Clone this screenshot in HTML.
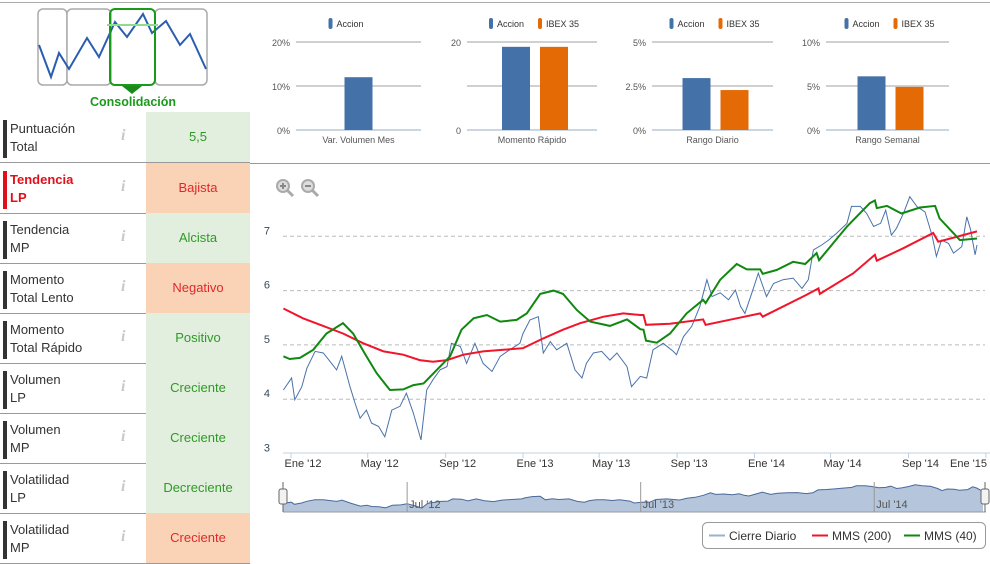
<!DOCTYPE html>
<html><head><meta charset="utf-8">
<style>
body{margin:0;width:990px;height:564px;overflow:hidden;background:#fff;font-family:"Liberation Sans",sans-serif;position:relative}
.row{position:absolute;left:0;width:250px;height:50px;border-bottom:1px solid #999}
.row .bar{position:absolute;left:3px;top:8px;width:4px;height:38px;background:#333}
.row .lbl{position:absolute;left:10px;top:8px;font-size:13px;line-height:18px;color:#333}
.row .info{position:absolute;left:121px;top:15px;font-size:16px;color:#c8c8c8;font-style:italic;font-family:"Liberation Serif",serif;font-weight:bold}
.row .val{position:absolute;left:146px;top:0;width:104px;height:50px;line-height:50px;text-align:center;font-size:13px}
.g{background:#e2efde;color:#2e9a26}.o{background:#fad3b6;color:#e0282c}
</style></head><body>
<div style="position:absolute;left:0;top:2px;width:990px;height:1px;background:#aaa"></div>
<div style="position:absolute;left:250px;top:163px;width:740px;height:1px;background:#999"></div>
<svg style="position:absolute;left:0;top:0" width="250" height="112">
<g fill="#fff" stroke="#aaa" stroke-width="1.5">
<rect x="38" y="9" width="29" height="76" rx="5"/><rect x="67" y="9" width="44" height="76" rx="5"/><rect x="155" y="9" width="52" height="76" rx="5"/></g>
<polyline fill="none" stroke="#2a5db0" stroke-width="2" points="39,45 51,77 59,53 69,69 87,38 99,57 115,22 127,37 143,14 152,33 166,21 180,45 190,34 206,69"/>
<rect x="110" y="9" width="45" height="76" rx="5" fill="none" stroke="#1a9a1a" stroke-width="2"/>
<line x1="107" y1="25" x2="158" y2="25" stroke="#8fdc8f" stroke-width="2"/>
<polygon points="122,86 142,86 132,94" fill="#1a8a1a"/>
<text x="133" y="106" text-anchor="middle" font-size="12.5" font-weight="bold" fill="#1a9a1a">Consolidación</text>
</svg>
<div style="position:absolute;left:0;top:0">
<div class="row" style="top:112px"><div class="bar"></div><div class="lbl">Puntuación<br>Total</div><div class="info">i</div><div class="val g">5,5</div></div>
<div class="row" style="top:163px"><div class="bar" style="background:#e0101a"></div><div class="lbl" style="color:#e0101a;font-weight:bold">Tendencia<br>LP</div><div class="info">i</div><div class="val o">Bajista</div></div>
<div class="row" style="top:213px"><div class="bar"></div><div class="lbl">Tendencia<br>MP</div><div class="info">i</div><div class="val g">Alcista</div></div>
<div class="row" style="top:263px"><div class="bar"></div><div class="lbl">Momento<br>Total Lento</div><div class="info">i</div><div class="val o">Negativo</div></div>
<div class="row" style="top:313px"><div class="bar"></div><div class="lbl">Momento<br>Total Rápido</div><div class="info">i</div><div class="val g">Positivo</div></div>
<div class="row" style="top:363px"><div class="bar"></div><div class="lbl">Volumen<br>LP</div><div class="info">i</div><div class="val g">Creciente</div></div>
<div class="row" style="top:413px"><div class="bar"></div><div class="lbl">Volumen<br>MP</div><div class="info">i</div><div class="val g">Creciente</div></div>
<div class="row" style="top:463px"><div class="bar"></div><div class="lbl">Volatilidad<br>LP</div><div class="info">i</div><div class="val g">Decreciente</div></div>
<div class="row" style="top:513px"><div class="bar"></div><div class="lbl">Volatilidad<br>MP</div><div class="info">i</div><div class="val o">Creciente</div></div>
</div>
<svg id="mini" style="position:absolute;left:0;top:0" width="990" height="160" font-family="Liberation Sans, sans-serif"></svg>
<svg id="main" style="position:absolute;left:0;top:0" width="990" height="564" font-family="Liberation Sans, sans-serif">
<g><circle cx="283" cy="186" r="6" fill="#ddd" stroke="#aaa" stroke-width="2"/><line x1="287" y1="190" x2="293" y2="196" stroke="#aaa" stroke-width="3"/><path d="M280 186h6M283 183v6" stroke="#888" stroke-width="2"/></g>
<g><circle cx="308" cy="186" r="6" fill="#ddd" stroke="#aaa" stroke-width="2"/><line x1="312" y1="190" x2="318" y2="196" stroke="#aaa" stroke-width="3"/><path d="M305 186h6" stroke="#888" stroke-width="2"/></g>
</svg>
<script>
const NS='http://www.w3.org/2000/svg';
function mk(p,t,a,txt){const e=document.createElementNS(NS,t);for(const k in a)e.setAttribute(k,a[k]);if(txt!==undefined)e.textContent=txt;p.appendChild(e);return e;}
// ---- mini chart data
const miniTitles=['Var. Volumen Mes','Momento Rápido','Rango Diario','Rango Semanal'];
const miniMax=[20,20,5,10];
const miniTicks=[['0%','10%','20%'],['0','','20'],['0%','2.5%','5%'],['0%','5%','10%']];
const accionVals=[12,18.9,2.95,6.1];
const ibexVals=[null,18.9,2.27,4.9];
const miniLeft=[296,467,652,826];
const miniW=[125,130,121,123];
const mini=document.getElementById('mini');
miniTitles.forEach((t,i)=>{
  const x0=miniLeft[i],w=miniW[i],y0=130,h=88;
  const y=v=>y0-v/miniMax[i]*h;
  [0,0.5,1].forEach((f,j)=>{
    const l=mk(mini,'line',{x1:x0,x2:x0+w,y1:y0-f*h,y2:y0-f*h,stroke:j?'#c0c0c0':'#b8c8da','stroke-width':1.5});
    
    
    const tl=mk(mini,'text',{x:x0-6,y:y0-f*h+4,'text-anchor':'end','font-size':9,fill:'#555'},miniTicks[i][j]);
    
    
  });
  const two=ibexVals[i]!==null;
  const cx=x0+w/2;
  const bx=two?[cx-30,cx+8]:[cx-14];
  const b=mk(mini,'rect',{x:bx[0],y:y(accionVals[i]),width:28,height:y0-y(accionVals[i]),fill:'#4472a8'});
  
  
  if(two){const b2=mk(mini,'rect',{x:bx[1],y:y(ibexVals[i]),width:28,height:y0-y(ibexVals[i]),fill:'#e46a06'});
  
  }
  const xt=mk(mini,'text',{x:cx,y:143,'text-anchor':'middle','font-size':9,fill:'#555'},t);
  
  
  const lx=two?cx-43:cx-30;
  const lg=mk(mini,'g',{});
  
  
  mk(lg,'rect',{x:lx,y:18,width:4,height:11,rx:2,fill:'#4472a8'});
  mk(lg,'text',{x:lx+8,y:27,'font-size':9,fill:'#333'},'Accion');
  if(two){mk(lg,'rect',{x:lx+49,y:18,width:4,height:11,rx:2,fill:'#e46a06'});mk(lg,'text',{x:lx+57,y:27,'font-size':9,fill:'#333'},'IBEX 35');}
});
// ---- main chart data (days since 2012-01-01)
const priceDays=[-12,1,6,17,25,38,51,64,72,80,93,101,109,119,127,138,148,159,172,182,193,205,214,224,235,246,253,267,277,290,303,317,330,345,361,366,377,390,398,409,419,435,448,459,466,477,490,503,514,530,537,551,561,571,587,603,608,619,632,645,656,664,677,690,701,709,716,727,737,750,761,776,792,806,816,824,837,848,861,877,884,898,908,919,930,938,947,955,966,976,987,1000,1011,1018,1026,1037,1045,1058,1066,1072,1079,1082];
const priceVals=[4.17,4.39,3.99,4.23,4.57,4.88,4.85,4.66,4.54,4.79,4.23,3.93,3.65,3.80,3.56,3.50,3.31,3.80,3.87,4.11,3.74,3.25,4.17,4.36,4.54,4.60,5.03,4.97,4.66,5.03,4.66,4.51,4.79,4.91,5.03,5.21,5.46,5.52,4.85,5.06,4.91,5.03,4.54,4.39,4.66,4.85,4.88,4.72,4.85,4.60,4.23,4.42,4.39,4.91,5.03,4.88,4.82,5.15,5.34,5.71,6.20,5.89,5.96,5.83,6.01,5.71,5.58,5.96,6.32,5.89,6.13,6.20,6.23,6.04,6.20,6.75,6.84,6.93,7.06,7.24,7.55,7.55,7.42,7.18,7.24,7.48,7.02,7.15,7.42,7.73,7.55,7.45,7.02,6.63,6.93,6.87,6.69,6.81,7.36,7.12,6.66,6.84];
const mms200Days=[-12,19,46,82,114,146,177,203,224,246,272,303,335,366,398,429,456,493,524,551,556,560,598,650,654,703,740,744,813,832,834,887,921,924,966,1013,1021,1082];
const mms200Vals=[5.67,5.49,5.37,5.21,5.03,4.88,4.82,4.72,4.69,4.72,4.82,4.88,4.91,4.94,5.12,5.28,5.40,5.52,5.58,5.55,5.55,5.37,5.39,5.47,5.37,5.49,5.58,5.52,5.92,6.04,5.94,6.32,6.66,6.55,6.78,7.06,6.90,7.09];
const mms40Days=[-12,-2,14,35,56,82,98,119,135,156,177,193,209,230,251,269,288,309,330,356,372,393,414,429,451,472,503,530,551,556,560,577,598,624,650,654,677,703,719,740,744,766,792,811,829,833,877,913,921,924,940,963,992,1016,1023,1055,1082];
const mms40Vals=[4.79,4.74,4.76,4.91,5.21,5.40,5.21,4.79,4.48,4.17,4.18,4.26,4.29,4.54,4.79,5.28,5.49,5.55,5.43,5.46,5.58,5.94,6.00,5.94,5.64,5.43,5.35,5.47,5.29,5.28,5.08,5.04,5.21,5.58,5.83,5.77,6.20,6.49,6.39,6.39,6.31,6.38,6.53,6.49,6.69,6.56,7.18,7.61,7.66,7.52,7.56,7.42,7.53,7.56,7.33,6.93,6.96];
const yTicks=[3,4,5,6,7];
const xTickDays=[0,121,244,366,486,609,731,851,974,1096];
const xTickLabels=["Ene '12","May '12","Sep '12","Ene '13","May '13","Sep '13","Ene '14","May '14","Sep '14","Ene '15"];
const navTickDays=[182,547,912];
const navTickLabels=["Jul '12","Jul '13","Jul '14"];
const X=d=>291+d*0.634;
const Y=v=>236.3+(7-v)*54.3;
const NX=d=>283+(d+12)*(700/1094);
const NY=v=>485+(7.7-v)*5.2;
const svg=document.getElementById('main');
yTicks.forEach(v=>{
  if(v>3){const g=mk(svg,'line',{x1:283,x2:985,y1:Y(v),y2:Y(v),stroke:'#bbb','stroke-dasharray':'4,3'});
  
  }
  const t=mk(svg,'text',{x:270,y:Y(v)-2,'text-anchor':'end','font-size':11,fill:'#34495e'},String(v));
  
  
});
const ax=mk(svg,'line',{x1:283,x2:990,y1:453,y2:453,stroke:'#c0d0e0'});


xTickDays.forEach((d,i)=>{
  mk(svg,'line',{x1:X(d),x2:X(d),y1:453,y2:458,stroke:'#c0d0e0'});
  const last=i===xTickDays.length-1;
  const t=mk(svg,'text',{x:last?987:X(d)+12,y:467,'text-anchor':last?'end':'middle','font-size':11,fill:'#333'},xTickLabels[i]);
  
  
});
function pts(ds,vs,fx,fy){return ds.map((d,i)=>fx(d).toFixed(1)+','+fy(vs[i]).toFixed(1)).join(' ');}
const pl=mk(svg,'polyline',{points:pts(priceDays,priceVals,X,Y),fill:'none',stroke:'#4a72aa','stroke-width':1});


const r=mk(svg,'polyline',{points:pts(mms200Days,mms200Vals,X,Y),fill:'none',stroke:'#f2142a','stroke-width':2});


const g=mk(svg,'polyline',{points:pts(mms40Days,mms40Vals,X,Y),fill:'none',stroke:'#108810','stroke-width':2});


// navigator
const nav=mk(svg,'g',{});


const np=pts(priceDays,priceVals,NX,NY);
mk(nav,'polygon',{points:NX(priceDays[0])+',512 '+np+' '+NX(priceDays[priceDays.length-1])+',512',fill:'#b4c5dc'});
mk(nav,'polyline',{points:np,fill:'none',stroke:'#4a6a9a','stroke-width':1});
mk(nav,'line',{x1:283,x2:986,y1:512,y2:512,stroke:'#999'});
navTickDays.forEach((d,i)=>{
  mk(nav,'line',{x1:NX(d),x2:NX(d),y1:482,y2:512,stroke:'#999'});
  const t=mk(nav,'text',{x:NX(d)+2,y:508,'font-size':11,fill:'#555'},navTickLabels[i]);
  
  
});
[283,985].forEach(x=>{
  mk(nav,'line',{x1:x,x2:x,y1:482,y2:512,stroke:'#666'});
  const h=mk(nav,'rect',{x:x-4,y:489,width:8,height:15,rx:2,fill:'#f2f2f2',stroke:'#666'});
  
  
});
// legend
const lg=mk(svg,'g',{});


mk(lg,'rect',{x:702.5,y:522.5,width:283,height:26,rx:5,fill:'#fff',stroke:'#999'});
[['Cierre Diario','#9ab0cc',709],['MMS (200)','#f2142a',812],['MMS (40)','#108810',904]].forEach(([t,c,x])=>{
  const e=mk(lg,'g',{});
  
  
  mk(e,'line',{x1:x,x2:x+16,y1:535.5,y2:535.5,stroke:c,'stroke-width':2});
  mk(e,'text',{x:x+20,y:540,'font-size':12,fill:'#333'},t);
});
</script>
</body></html>
